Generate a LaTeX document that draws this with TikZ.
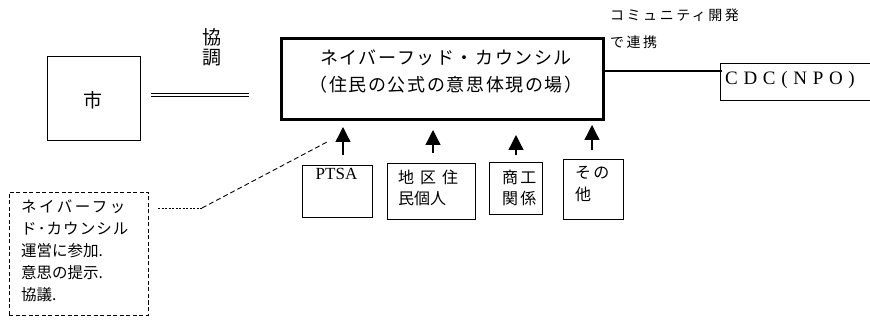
\documentclass[tikz,border=0pt]{standalone}
\usepackage{fontspec}
\setmainfont{Liberation Serif}
\newfontfamily\jp{Noto Sans CJK JP}
\usetikzlibrary{arrows.meta}
\tikzset{
  plainbox/.style={draw, line width=0.9pt, inner sep=0pt},
  mainbox/.style={draw, line width=3pt, inner sep=0pt},
  dashbox/.style={draw, line width=0.9pt, dash pattern=on 4pt off 2.5pt, inner sep=0pt},
  jptext/.style={inner sep=0pt, font=\jp},
  uparrow/.style={line width=1.3pt, -{Triangle[width=15pt,length=15pt]}},
}
\begin{document}
\begin{tikzpicture}[x=1pt,y=-1pt]
\useasboundingbox (0,0) rectangle (870,320);
% city
\node[plainbox, minimum width=93pt, minimum height=84pt] (city) at (93.5,98) {};
\node[jptext, font=\jp\fontsize{19}{20}\selectfont] (citytext) at (93,100) {市};
% cooperation double line
\coordinate (dl1) at (151,95);
\coordinate (dl2) at (249,95);
\draw[double, double distance=2.6pt, line width=1.1pt] (dl1) -- (dl2);
\node[jptext, align=center, font=\jp\fontsize{19}{20}\selectfont] (kyocho) at (212,47) {協\\調};
% council
\node[mainbox, minimum width=322pt, minimum height=81pt] (council) at (442,79.5) {};
\node[jptext, align=center, font=\jp\fontsize{18}{27}\selectfont\addfontfeature{LetterSpace=9}] (ctext) at (446,71.5) {ネイバーフッド・カウンシル\\（住民の公式の意思体現の場）};
% CDC
\node[plainbox, line width=0.8pt, minimum width=170pt, minimum height=37pt, anchor=west] (cdc) at (720,81.5) {};
\node[inner sep=0pt, anchor=west, font=\fontsize{19}{20}\selectfont\addfontfeature{LetterSpace=30}] (cdctext) at (725,80) {CDC(NPO)};
\coordinate (cdcL) at (722,71);
\draw[line width=2pt] (council.east |- cdcL) -- (cdcL);
\node[jptext, anchor=west, align=left, font=\jp\fontsize{14}{27}\selectfont\addfontfeature{LetterSpace=18}] (comm) at (610,28.5) {コミュニティ開発\\で連携};
% small boxes
\node[plainbox, minimum width=70pt, minimum height=52pt] (ptsa) at (337,191) {};
\node[inner sep=0pt, font=\fontsize{17}{20}\selectfont] (ptsatext) at (336.5,174) {PTSA};
\node[plainbox, minimum width=88pt, minimum height=56pt] (chiku) at (431,191) {};
\node[jptext, anchor=west, align=left, font=\jp\fontsize{16}{21}\selectfont] (chikutext) at (398,187.5) {地\hspace{6pt}区\hspace{6pt}住\\民個人};
\node[plainbox, minimum width=53pt, minimum height=52pt] (shoko) at (515.5,188) {};
\node[jptext, anchor=west, align=left, font=\jp\fontsize{16}{21}\selectfont\addfontfeature{LetterSpace=14}] (shokotext) at (502,187.5) {商工\\関係};
\node[plainbox, minimum width=60pt, minimum height=60pt] (sonota) at (593,189) {};
\node[jptext, anchor=west, align=left, font=\jp\fontsize{16}{22}\selectfont\addfontfeature{LetterSpace=14}] (sonotatext) at (575,184) {その\\他};
% arrows
\coordinate (a1s) at (343,155); \coordinate (a1e) at (343,127);
\coordinate (a2s) at (433,153); \coordinate (a2e) at (433,130);
\coordinate (a3s) at (516,155); \coordinate (a3e) at (516,135);
\coordinate (a4s) at (592,150); \coordinate (a4e) at (592,125);
\draw[uparrow] (a1s) -- (a1e);
\draw[uparrow] (a2s) -- (a2e);
\draw[uparrow] (a3s) -- (a3e);
\draw[uparrow] (a4s) -- (a4e);
% dashed note
\node[dashbox, minimum width=139pt, minimum height=123pt] (note) at (78.5,253.5) {};
\node[jptext, anchor=west, align=left, font=\jp\fontsize{15.5}{22}\selectfont] (notetext) at (21,251) {{\addfontfeature{LetterSpace=16}ネイバーフッ}\\{\addfontfeature{LetterSpace=7}ド･カウンシル}\\運営に参加.\\意思の提示.\\協議.};
\coordinate (n1) at (158,208);
\coordinate (n2) at (202,208);
\coordinate (n3) at (327,142);
\draw[line width=0.6pt, dash pattern=on 2pt off 1.5pt] (n1) -- (n2);
\draw[line width=0.9pt, dash pattern=on 5pt off 3pt] (n2) -- (n3);
\end{tikzpicture}
\end{document}
